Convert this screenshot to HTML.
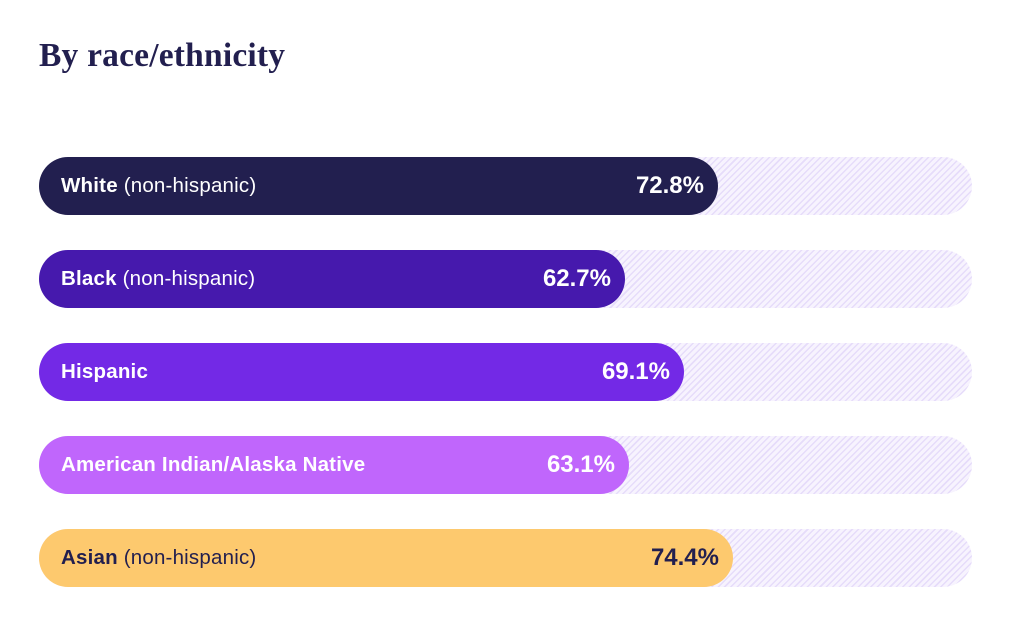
<!DOCTYPE html>
<html><head><meta charset="utf-8"><style>
body{margin:0;width:1024px;height:642px;background:#fff;position:relative;overflow:hidden;font-family:"Liberation Sans",sans-serif}
h1{position:absolute;left:39px;top:37px;margin:0;font-family:"Liberation Serif",serif;font-weight:bold;font-size:33.5px;color:#221f4f;letter-spacing:0.2px}
.track{position:absolute;left:39px;width:933px;height:58px;border-radius:29px;background:repeating-linear-gradient(135deg,#f7f3fe 0 3px,#e6dcfa 3px 4.5px)}
.bar{position:absolute;left:0;top:0;height:58px;border-radius:29px}
.lab{position:absolute;left:22px;top:0;line-height:58px;font-size:20.5px;color:#fff;white-space:nowrap;letter-spacing:0.2px}
.lab b{font-weight:bold}
.pct{position:absolute;right:14px;top:0;line-height:58px;font-size:24px;font-weight:bold;color:#fff}
</style></head><body>
<h1>By race/ethnicity</h1>
<div class="track" style="top:157px"><div class="bar" style="width:679px;background:#221f4f"><span class="lab"><b>White</b> (non-hispanic)</span><span class="pct">72.8%</span></div></div>
<div class="track" style="top:250px"><div class="bar" style="width:586px;background:#4619ad"><span class="lab"><b>Black</b> (non-hispanic)</span><span class="pct">62.7%</span></div></div>
<div class="track" style="top:343px"><div class="bar" style="width:645px;background:#7329e6"><span class="lab"><b>Hispanic</b></span><span class="pct">69.1%</span></div></div>
<div class="track" style="top:436px"><div class="bar" style="width:590px;background:#c066fc"><span class="lab"><b>American Indian/Alaska Native</b></span><span class="pct">63.1%</span></div></div>
<div class="track" style="top:529px"><div class="bar" style="width:694px;background:#fdc96e"><span class="lab" style="color:#221f4f"><b>Asian</b> (non-hispanic)</span><span class="pct" style="color:#221f4f">74.4%</span></div></div>
</body></html>
